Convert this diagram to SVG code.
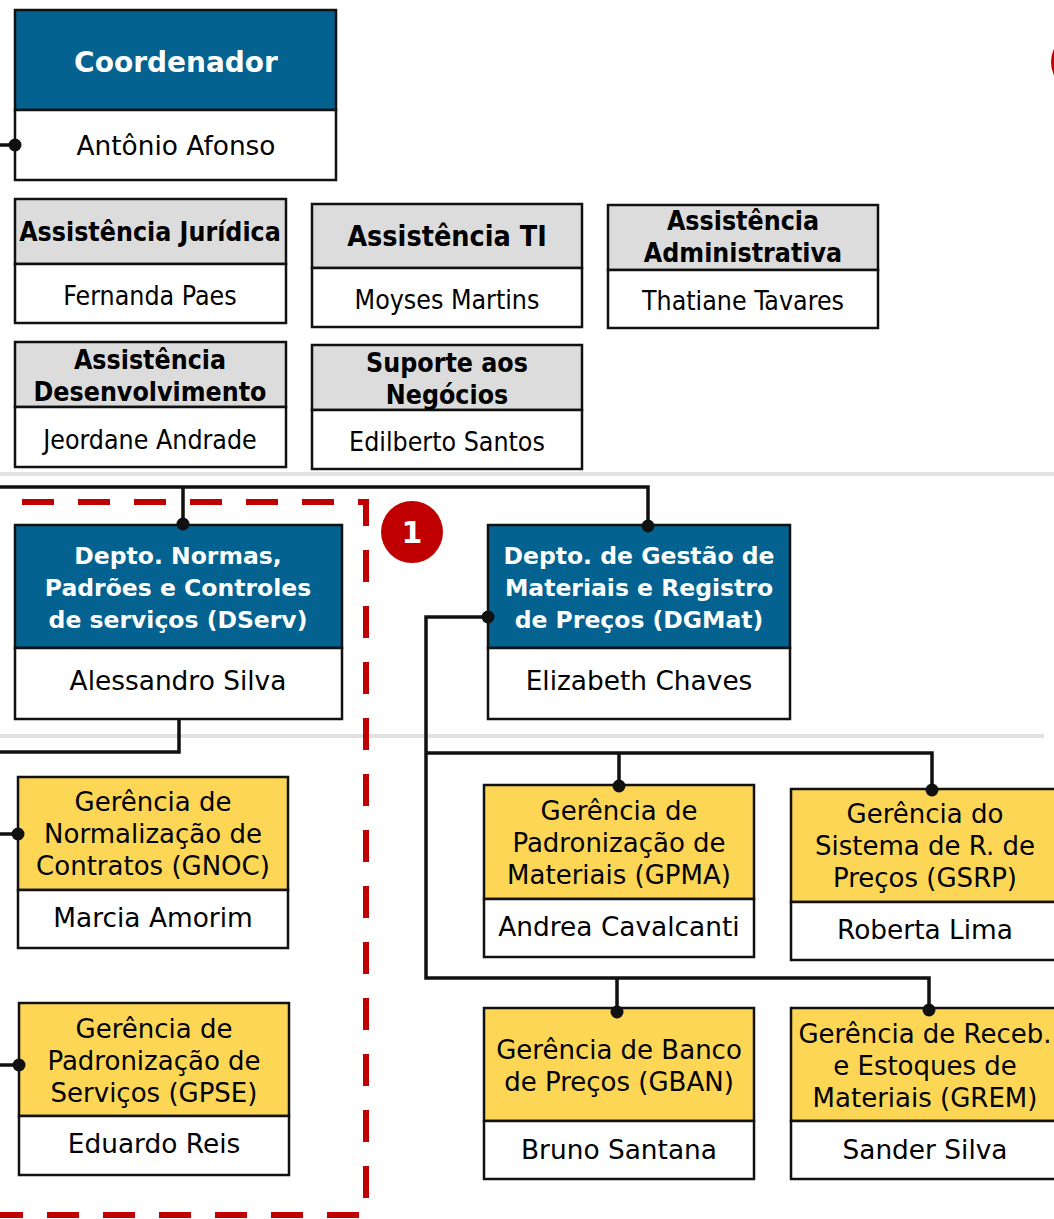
<svg xmlns="http://www.w3.org/2000/svg" width="1054" height="1219" viewBox="0 0 1054 1219">
<defs>
<style>
.hb{fill:#03628f;stroke:#111;stroke-width:2.5}
.hg{fill:#dcdcdc;stroke:#111;stroke-width:2.5}
.hy{fill:#fcd654;stroke:#111;stroke-width:2.5}
.nm{fill:#fff;stroke:#111;stroke-width:2.5}
text{font-family:"DejaVu Sans","Liberation Sans",sans-serif;text-anchor:middle;fill:#000}
.tw{fill:#fff;font-weight:bold;font-size:23.5px}
.tb{font-family:"DejaVu Sans Condensed","DejaVu Sans",sans-serif;font-stretch:condensed;font-weight:bold;font-size:26.5px}
.ty{font-size:26px}
.n1{font-size:26.4px}
.n2{font-family:"DejaVu Sans Condensed","DejaVu Sans",sans-serif;font-stretch:condensed;font-size:26.5px}
.ln{fill:none;stroke:#111;stroke-width:3.5}
.dot{fill:#111}
.sep{stroke:#e2e2e2;stroke-width:4}
.red{fill:#c00000}
</style>
</defs>
<g id="separators">
<line class="sep" x1="0" y1="474" x2="1054" y2="474"/>
<line class="sep" x1="0" y1="736" x2="1044" y2="736"/>
</g>
<path id="group-1-boundary" d="M22 502 H366 V1215 H0" fill="none" stroke="#c00000" stroke-width="6" stroke-dasharray="32 24"/>
<g id="badge-1"><circle class="red" cx="412" cy="532" r="31"/><text x="412" y="543" style="fill:#fff;font-weight:bold;font-size:30px">1</text></g>
<g id="badge-top"><circle class="red" cx="1082" cy="62" r="31"/></g>
<g id="coordenador">
<rect class="hb" x="15" y="10" width="321" height="100"/>
<rect class="nm" x="15" y="110" width="321" height="70"/>
<text x="176" y="72" style="fill:#fff;font-weight:bold;font-size:28px">Coordenador</text>
<text class="n1" x="176" y="155">Antônio Afonso</text>
</g>
<g id="assist-juridica">
<rect class="hg" x="15" y="199" width="271" height="65"/>
<rect class="nm" x="15" y="264" width="271" height="59"/>
<text class="tb" x="150" y="241">Assistência Jurídica</text>
<text class="n2" x="150" y="305">Fernanda Paes</text>
</g>
<g id="assist-ti">
<rect class="hg" x="312" y="204" width="270" height="64"/>
<rect class="nm" x="312" y="268" width="270" height="59"/>
<text class="tb" x="447" y="246" style="font-size:28.5px">Assistência TI</text>
<text class="n2" x="447" y="309">Moyses Martins</text>
</g>
<g id="assist-admin">
<rect class="hg" x="608" y="205" width="270" height="65"/>
<rect class="nm" x="608" y="270" width="270" height="58"/>
<text class="tb" x="743" y="230">Assistência</text>
<text class="tb" x="743" y="262">Administrativa</text>
<text class="n2" x="743" y="310">Thatiane Tavares</text>
</g>
<g id="assist-desenv">
<rect class="hg" x="15" y="342" width="271" height="65"/>
<rect class="nm" x="15" y="407" width="271" height="60"/>
<text class="tb" x="150" y="369">Assistência</text>
<text class="tb" x="150" y="401">Desenvolvimento</text>
<text class="n2" x="150" y="449">Jeordane Andrade</text>
</g>
<g id="suporte-negocios">
<rect class="hg" x="312" y="345" width="270" height="65"/>
<rect class="nm" x="312" y="410" width="270" height="59"/>
<text class="tb" x="447" y="372">Suporte aos</text>
<text class="tb" x="447" y="404">Negócios</text>
<text class="n2" x="447" y="451">Edilberto Santos</text>
</g>
<g id="dserv">
<rect class="hb" x="15" y="525" width="327" height="123"/>
<rect class="nm" x="15" y="648" width="327" height="71"/>
<text class="tw" x="178" y="564">Depto. Normas,</text>
<text class="tw" x="178" y="596">Padrões e Controles</text>
<text class="tw" x="178" y="628">de serviços (DServ)</text>
<text class="n1" x="178" y="690">Alessandro Silva</text>
</g>
<g id="dgmat">
<rect class="hb" x="488" y="525" width="302" height="123"/>
<rect class="nm" x="488" y="648" width="302" height="71"/>
<text class="tw" x="639" y="564">Depto. de Gestão de</text>
<text class="tw" x="639" y="596">Materiais e Registro</text>
<text class="tw" x="639" y="628">de Preços (DGMat)</text>
<text class="n1" x="639" y="690">Elizabeth Chaves</text>
</g>
<g id="gnoc">
<rect class="hy" x="18" y="777" width="270" height="113"/>
<rect class="nm" x="18" y="890" width="270" height="58"/>
<text class="ty" x="153" y="811">Gerência de</text>
<text class="ty" x="153" y="843">Normalização de</text>
<text class="ty" x="153" y="875">Contratos (GNOC)</text>
<text class="n1" x="153" y="927">Marcia Amorim</text>
</g>
<g id="gpse">
<rect class="hy" x="19" y="1003" width="270" height="113"/>
<rect class="nm" x="19" y="1116" width="270" height="59"/>
<text class="ty" x="154" y="1038">Gerência de</text>
<text class="ty" x="154" y="1070">Padronização de</text>
<text class="ty" x="154" y="1102">Serviços (GPSE)</text>
<text class="n1" x="154" y="1153">Eduardo Reis</text>
</g>
<g id="gpma">
<rect class="hy" x="484" y="785" width="270" height="114"/>
<rect class="nm" x="484" y="899" width="270" height="58"/>
<text class="ty" x="619" y="820">Gerência de</text>
<text class="ty" x="619" y="852">Padronização de</text>
<text class="ty" x="619" y="884">Materiais (GPMA)</text>
<text class="n1" x="619" y="936">Andrea Cavalcanti</text>
</g>
<g id="gsrp">
<rect class="hy" x="791" y="789" width="280" height="113"/>
<rect class="nm" x="791" y="902" width="280" height="58"/>
<text class="ty" x="925" y="823">Gerência do</text>
<text class="ty" x="925" y="855">Sistema de R. de</text>
<text class="ty" x="925" y="887">Preços (GSRP)</text>
<text class="n1" x="925" y="939">Roberta Lima</text>
</g>
<g id="gban">
<rect class="hy" x="484" y="1008" width="270" height="113"/>
<rect class="nm" x="484" y="1121" width="270" height="58"/>
<text class="ty" x="619" y="1059">Gerência de Banco</text>
<text class="ty" x="619" y="1091">de Preços (GBAN)</text>
<text class="n1" x="619" y="1159">Bruno Santana</text>
</g>
<g id="grem">
<rect class="hy" x="791" y="1008" width="280" height="113"/>
<rect class="nm" x="791" y="1121" width="280" height="58"/>
<text class="ty" x="925" y="1043">Gerência de Receb.</text>
<text class="ty" x="925" y="1075">e Estoques de</text>
<text class="ty" x="925" y="1107">Materiais (GREM)</text>
<text class="n1" x="925" y="1159">Sander Silva</text>
</g>
<g id="connectors">
<path class="ln" d="M0 145 H15"/>
<path class="ln" d="M0 487 H648 V526 M183 487 V524"/>
<path class="ln" d="M179 720 V752 H0"/>
<path class="ln" d="M0 834 H18 M0 1065 H19"/>
<path class="ln" d="M488 617 H426 V978 H929 V1010 M617 978 V1012 M426 753 H932 V790 M619 753 V786"/>
<circle class="dot" cx="15" cy="145" r="6.5"/>
<circle class="dot" cx="183" cy="524" r="6.5"/>
<circle class="dot" cx="648" cy="526" r="6.5"/>
<circle class="dot" cx="488" cy="617" r="6.5"/>
<circle class="dot" cx="18" cy="834" r="6.5"/>
<circle class="dot" cx="19" cy="1065" r="6.5"/>
<circle class="dot" cx="619" cy="786" r="6.5"/>
<circle class="dot" cx="932" cy="790" r="6.5"/>
<circle class="dot" cx="617" cy="1012" r="6.5"/>
<circle class="dot" cx="929" cy="1010" r="6.5"/>
</g>
</svg>
